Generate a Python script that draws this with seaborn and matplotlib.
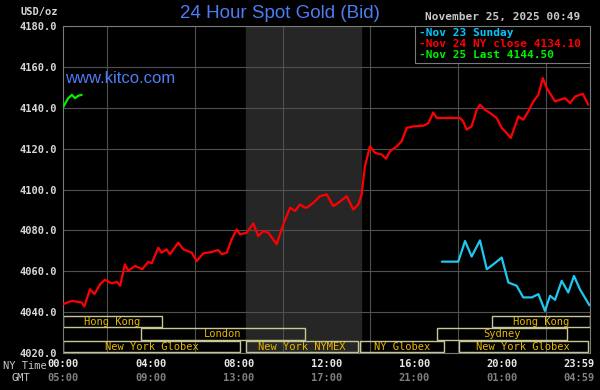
import matplotlib
matplotlib.use("Agg")
import matplotlib.pyplot as plt
from matplotlib.patches import Rectangle
from matplotlib.ticker import MultipleLocator
import seaborn as sns
import pandas as pd

# Nov 24 NY close (red), hours after midnight NY time
red_hours = [0.0, 0.40, 0.85, 0.97, 1.23, 1.43, 1.69, 1.91, 2.22, 2.45, 2.60, 2.82,
             2.97, 3.28, 3.61, 3.88, 4.04, 4.34, 4.49, 4.72, 4.87, 5.25, 5.48, 5.86,
             6.09, 6.39, 6.77, 7.07, 7.23, 7.46, 7.68, 7.91, 8.06, 8.37, 8.67, 8.89,
             9.12, 9.35, 9.73, 10.03, 10.34, 10.57, 10.79, 11.02, 11.10, 11.40, 11.70,
             12.01, 12.31, 12.54, 12.92, 13.22, 13.45, 13.60, 13.75, 13.98, 14.21,
             14.51, 14.71, 14.89, 15.20, 15.42, 15.65, 15.95, 16.41, 16.64, 16.86,
             17.02, 18.08, 18.23, 18.38, 18.61, 18.84, 18.99, 19.22, 19.45, 19.75,
             19.98, 20.13, 20.39, 20.58, 20.74, 20.96, 21.19, 21.42, 21.65, 21.85,
             22.03, 22.41, 22.63, 22.86, 23.09, 23.32, 23.67, 23.92]
red_prices = [4043.9, 4045.5, 4044.7, 4042.8, 4051.2, 4048.8, 4053.7, 4055.8, 4054.1,
              4054.8, 4052.9, 4063.4, 4060.2, 4062.6, 4061.0, 4064.6, 4063.9, 4071.5,
              4069.1, 4070.7, 4068.3, 4074.0, 4070.7, 4069.1, 4065.0, 4068.8, 4069.4,
              4070.4, 4068.3, 4069.1, 4075.6, 4080.5, 4078.0, 4078.9, 4083.4, 4077.2,
              4079.7, 4078.9, 4073.2, 4082.9, 4091.1, 4089.5, 4092.7, 4091.1, 4091.1,
              4093.5, 4096.7, 4097.6, 4091.9, 4093.5, 4096.7, 4090.2, 4092.7, 4097.6,
              4111.4, 4121.1, 4117.9, 4117.1, 4115.1, 4118.7, 4121.1, 4123.6, 4130.1,
              4130.9, 4131.2, 4132.5, 4137.7, 4135.0, 4135.0, 4133.3, 4129.3, 4130.9,
              4139.0, 4141.5, 4139.0, 4137.4, 4135.0, 4130.1, 4128.5, 4125.2, 4130.9,
              4135.8, 4134.1, 4138.2, 4143.1, 4146.3, 4154.5, 4149.6, 4143.1, 4143.9,
              4144.7, 4142.3, 4145.5, 4146.8, 4141.5]

# Nov 23 Sunday (cyan)
cyan_hours = [17.25, 18.00, 18.31, 18.61, 18.99, 19.30, 19.60, 19.98, 20.28, 20.66,
              20.96, 21.35, 21.65, 21.95, 22.18, 22.41, 22.71, 23.01, 23.27, 23.54, 23.97]
cyan_prices = [4064.7, 4064.7, 4074.8, 4067.2, 4075.1, 4061.0, 4063.4, 4066.7, 4054.5,
               4052.9, 4047.2, 4047.2, 4048.8, 4040.6, 4048.0, 4046.0, 4055.3, 4049.6,
               4057.7, 4051.2, 4043.4]

# Nov 25 last (green)
green_hours = [0.0, 0.24, 0.40, 0.55, 0.70, 0.85]
green_prices = [4140.2, 4144.7, 4146.3, 4144.7, 4145.9, 4146.3]

ny_labels = ["00:00", "04:00", "08:00", "12:00", "16:00", "20:00", "23:59"]
gmt_labels = ["05:00", "09:00", "13:00", "17:00", "21:00", "01:00", "04:59"]
label_hours = [0, 4, 8, 12, 16, 20, 23.5]

# trading sessions: name, start hour, end hour, row (0 = top)
session_names = ["Hong Kong", "Hong Kong", "London", "Sydney",
                 "New York Globex", "New York NYMEX", "NY Globex", "New York Globex"]
session_start = [0.0, 19.54, 3.54, 17.03, 0.0, 8.33, 13.52, 18.03]
session_end = [4.5, 24.0, 11.0, 22.95, 8.06, 13.43, 17.35, 23.9]
session_row = [0, 0, 1, 1, 2, 2, 2, 2]

legend_lines = ["-Nov 23 Sunday", "-Nov 24 NY close 4134.10", "-Nov 25 Last 4144.50"]
legend_colors = ["#00c8ff", "#ff0000", "#00f000"]

df = pd.concat([
    pd.DataFrame({"hour": red_hours, "price": red_prices, "day": "Nov 24"}),
    pd.DataFrame({"hour": cyan_hours, "price": cyan_prices, "day": "Nov 23"}),
    pd.DataFrame({"hour": green_hours, "price": green_prices, "day": "Nov 25"}),
])

sns.set_style("dark")
plt.rcParams["font.family"] = ["DejaVu Sans Mono", "DejaVu Sans"]

fig = plt.figure(figsize=(6, 3.9), dpi=100, facecolor="black")
ax = fig.add_axes([63 / 600, 1 - 353 / 390, 527 / 600, 327 / 390])
ax.set_facecolor("black")

# NYMEX shaded window
ax.axvspan(8.33, 13.57, color="#262626", zorder=0)

sns.lineplot(data=df, x="hour", y="price", hue="day", estimator=None, sort=False,
             palette={"Nov 24": "#ff0000", "Nov 23": "#1ec8f0", "Nov 25": "#00f000"},
             linewidth=1.6, legend=False, ax=ax, zorder=3)

ax.set_xlim(0, 24)
ax.set_ylim(4020, 4180)
ax.yaxis.set_major_locator(MultipleLocator(20))
ax.set_yticklabels([f"{v:.1f}" for v in ax.get_yticks()])
ax.xaxis.set_minor_locator(MultipleLocator(2))
ax.set_xticks(label_hours)
ax.set_xticklabels(ny_labels)
ax.grid(False)
ax.grid(True, which="minor", axis="x", color="#505050", lw=0.8, zorder=1)
ax.grid(True, which="major", axis="y", color="#505050", lw=0.8, zorder=1)
ax.tick_params(which="both", length=0)
ax.tick_params(axis="y", colors="#d8d8d8", labelsize=7.5, pad=4)
ax.tick_params(axis="x", colors="#e8e8e8", labelsize=7.5, pad=4)
for lab in ax.get_xticklabels() + ax.get_yticklabels():
    lab.set_fontweight("bold")
for s in ax.spines.values():
    s.set_color("#7a7a7a")
    s.set_linewidth(0.8)
ax.set_xlabel("")
ax.set_ylabel("")

# session bars
row_bounds = [(4032.7, 4038.0), (4026.3, 4032.2), (4020.3, 4025.8)]
for name, a, b, r in zip(session_names, session_start, session_end, session_row):
    lo, hi = row_bounds[r]
    ax.add_patch(Rectangle((a, lo), b - a, hi - lo, fill=False, edgecolor="#c8c896",
                           lw=1.0, zorder=2))
    ax.text((a + b) / 2, (lo + hi) / 2, name, color="#e8b800", fontsize=7.5,
            ha="center", va="center", zorder=4)

# GMT row
for h, g in zip(label_hours, gmt_labels):
    ax.text(h, -0.077, g, transform=ax.get_xaxis_transform(), color="#808080",
            fontsize=7.5, fontweight="bold", ha="center", va="center")
fig.text(3 / 600, 1 - 366 / 390, "NY Time", color="#c8c8c8", fontsize=7.5, va="center")
fig.text(12 / 600, 1 - 378 / 390, "GMT", color="#c8c8c8", fontsize=7.5, va="center")
fig.text(58 / 600, 1 - 12 / 390, "USD/oz", color="#d8d8d8", fontsize=7.5,
         fontweight="bold", ha="right", va="center")

# legend box
ax.add_patch(Rectangle((0.668, 0.887), 0.332, 0.113, transform=ax.transAxes,
                       facecolor="black", edgecolor="#7a7a7a", lw=0.8, zorder=5))
for i, (t, c) in enumerate(zip(legend_lines, legend_colors)):
    ax.text(0.676, 0.979 - i * 0.034, t, transform=ax.transAxes, color=c,
            fontsize=8, fontweight="bold", va="center", zorder=6)

fig.text(503 / 600, 1 - 17 / 390, "November 25, 2025 00:49", color="#c8c8c8",
         fontsize=8, fontweight="bold", ha="center", va="center")
fig.text(280 / 600, 1 - 14 / 390, "24 Hour Spot Gold (Bid)", color="#4f7cf5",
         fontsize=13.5, family="Liberation Sans", ha="center", va="center")
ax.text(0.004, 0.84, "www.kitco.com", transform=ax.transAxes, color="#4f7cf5",
        fontsize=12, family="Liberation Sans", va="center", zorder=4)

fig.savefig("out.png", dpi=100, facecolor="black")
